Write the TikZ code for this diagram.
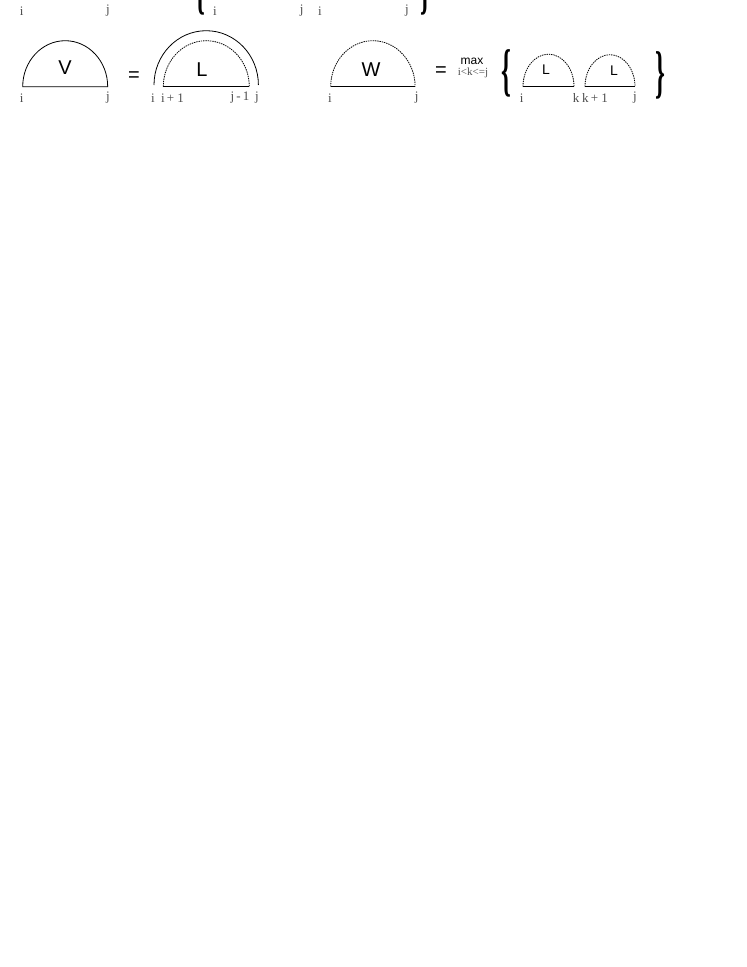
\documentclass[tikz,border=0pt]{standalone}
\usepackage{fontspec}
\usepackage{graphicx}
\setmainfont{Liberation Serif}
\setsansfont{Liberation Sans}
\usetikzlibrary{positioning}
\tikzstyle{solidarc} = [line width=0.8pt, black]
\tikzstyle{dotarc} = [line width=0.8pt, black, dash pattern=on 1.4pt off 0.9pt]
\tikzstyle{base} = [line width=0.8pt, black]
\tikzstyle{idx} = [inner sep=0pt, text=black!70, font=\fontsize{13}{13}\selectfont]
\tikzstyle{letter} = [inner sep=0pt, font=\sffamily\fontsize{20}{20}\selectfont]
\tikzstyle{smallletter} = [inner sep=0pt, font=\sffamily\fontsize{14}{14}\selectfont]
\tikzstyle{eq} = [inner sep=0pt, font=\sffamily\fontsize{20}{20}\selectfont]
\tikzstyle{brace} = [inner sep=0pt, font=\bfseries\fontsize{25}{25}\selectfont]
\newcommand{\tallbrace}[1]{\scalebox{1}[2.3]{#1}}

\begin{document}
\begin{tikzpicture}[x=1pt, y=-1pt]
      \useasboundingbox (0,0) rectangle (747,967);
      \clip (0,0) rectangle (747,967);
      % top row (cut off)
      \node (ti1) [idx] at (21.7,11) {i};
      \node (tj1) [idx] at (108,11) {j};
      \node (tlb) [brace, anchor=south] at (200,15) {\tallbrace{\{}};
      \node (ti2) [idx] at (215,11) {i};
      \node (tj2) [idx] at (301.7,11) {j};
      \node (ti3) [idx] at (320,11) {i};
      \node (tj3) [idx] at (407,11) {j};
      \node (trb) [brace, anchor=south] at (425,15) {\tallbrace{\}}};
      % V = L
      \draw [solidarc] (22.7,86.7) arc[start angle=180, end angle=360, x radius=42.5, y radius=46] -- cycle;
      \node (V) [letter] at (65,68) {V};
      \node (vi) [idx] at (21.7,98) {i};
      \node (vj) [idx] at (108,98) {j};
      \node (eq1) [eq] at (134,77) {=};
      \draw [solidarc] (154,85) arc[start angle=180, end angle=360, x radius=52.2, y radius=54.3];
      \draw [dotarc] (163.3,86.7) arc[start angle=180, end angle=360, x radius=43, y radius=46];
      \draw [base] (163.3,86.7) -- (249.3,86.7);
      \node (L1) [letter] at (202,70) {L};
      \node (li) [idx] at (153,98) {i};
      \node (li1) [idx] at (172.5,98) {i\,+\ 1};
      \node (lj1) [idx] at (240,98) {j\,-\,1};
      \node (lj) [idx] at (257,98) {j};
      % W = max
      \draw [dotarc] (330.7,86.7) arc[start angle=180, end angle=360, x radius=42.2, y radius=46];
      \draw [base] (330.7,86.7) -- (415.1,86.7);
      \node (W) [letter] at (371,70) {W};
      \node (wi) [idx] at (330,98) {i};
      \node (wj) [idx] at (416.7,98) {j};
      \node (eq2) [eq] at (441,72) {=};
      \node (max) [inner sep=0pt, font=\sffamily\fontsize{12}{12}\selectfont] at (472,61) {max};
      \node (range) [idx, font=\fontsize{11}{11}\selectfont] at (473,73) {i<k<=j};
      \node (lb) [brace] at (506,73) {\tallbrace{\{}};
      \draw [dotarc] (523,86.7) arc[start angle=180, end angle=360, x radius=25.5, y radius=32.5];
      \draw [base] (523,86.7) -- (574,86.7);
      \node (L2) [smallletter] at (546,70) {L};
      \draw [dotarc] (585,86.7) arc[start angle=180, end angle=360, x radius=25, y radius=32];
      \draw [base] (585,86.7) -- (635,86.7);
      \node (L3) [smallletter] at (614,71) {L};
      \node (mi) [idx] at (521.7,98) {i};
      \node (mk) [idx] at (576,98) {k};
      \node (mk1) [idx] at (595,98) {k\,+\ 1};
      \node (mj) [idx] at (635,98) {j};
      \node (rb) [brace] at (660,75) {\tallbrace{\}}};
\end{tikzpicture}
\end{document}
